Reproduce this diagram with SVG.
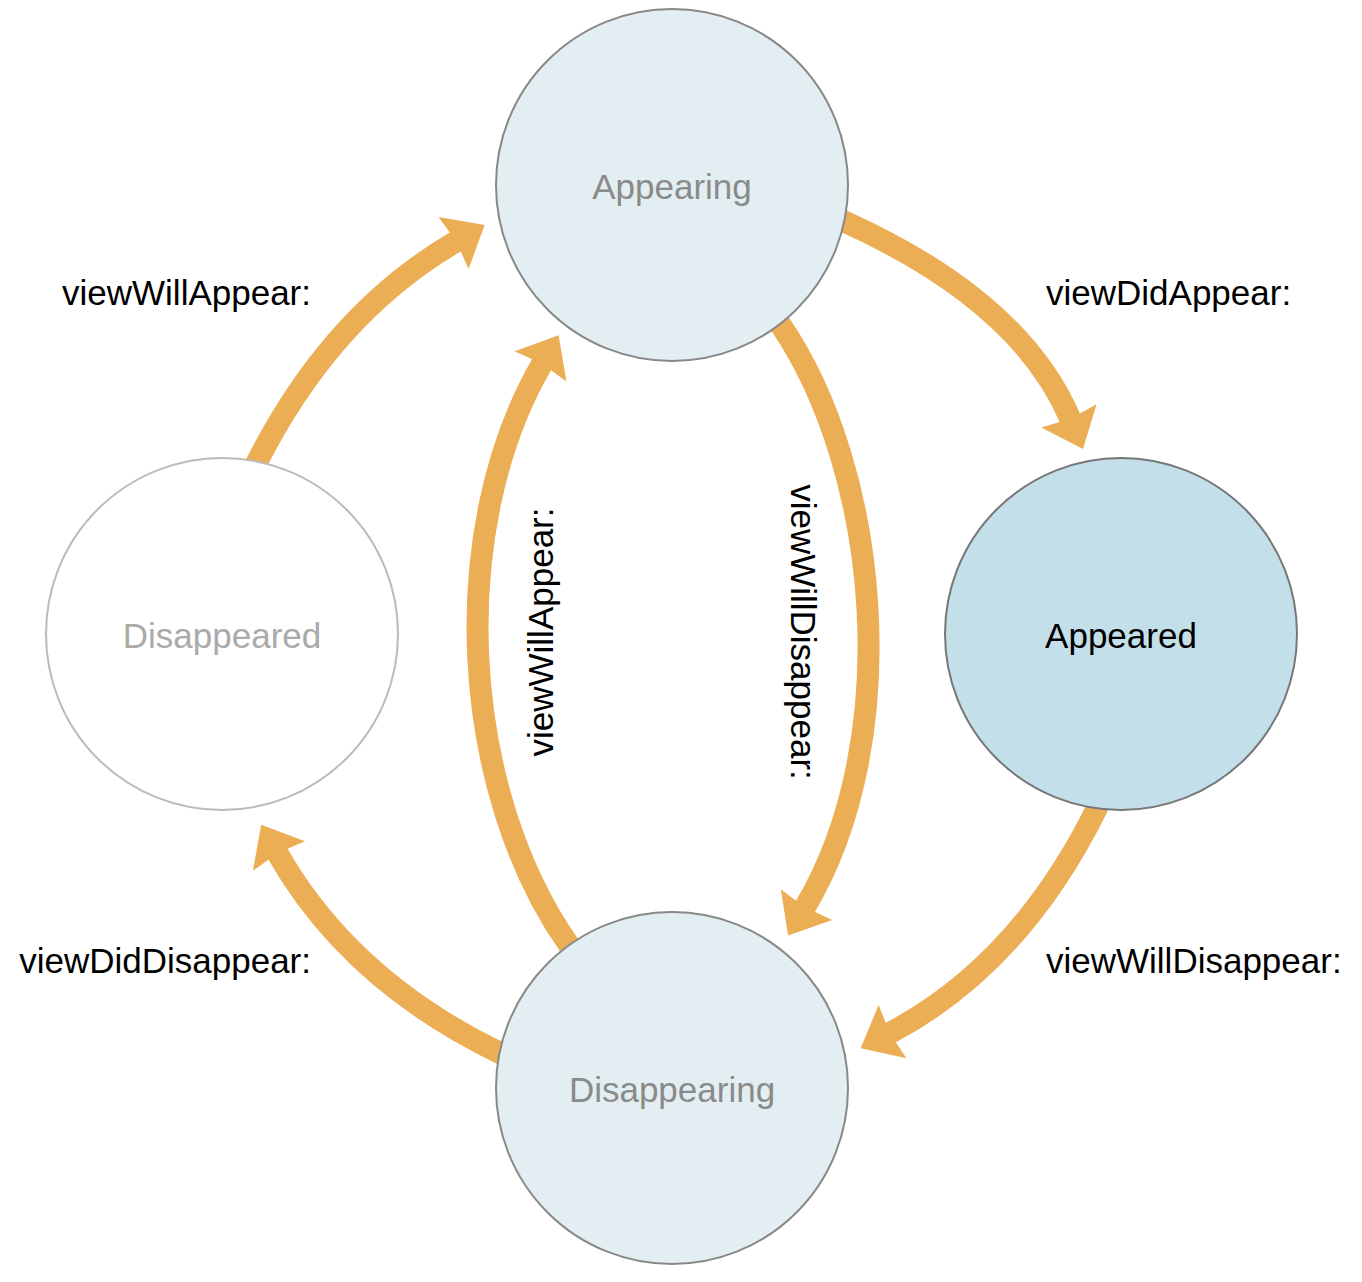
<svg xmlns="http://www.w3.org/2000/svg" width="1362" height="1282" viewBox="0 0 1362 1282">
  <style>
    .flow { fill: none; stroke: #ebae55; stroke-width: 22; marker-end: url(#head); }
    .node { stroke-width: 2; }
    .label { font-family: "Liberation Sans", Arial, Helvetica, sans-serif; font-size: 35px; fill: #000; }
    .title { font-family: "Liberation Sans", Arial, Helvetica, sans-serif; font-size: 35px; text-anchor: middle; }
  </style>
  <defs>
    <!-- arrowhead: base overlaps the path end, tip extends forward -->
    <marker id="head" markerUnits="userSpaceOnUse" orient="auto" refX="0" refY="0" markerWidth="1" markerHeight="1" overflow="visible">
      <path d="M 32 0 L -4 -30 L -2 -11 L -2 11 L -4 30 Z" fill="#ebae55"/>
    </marker>
  </defs>
  <rect width="1362" height="1282" fill="#ffffff"/>

  <!-- transitions -->
  <g id="connectors">
    <path class="flow" d="M 255 466 Q 331 314 457 241"/>
    <path class="flow" d="M 841 220 Q 1020 300 1070.5 419.5"/>
    <path class="flow" d="M 780 324 C 880 470 905 740 804.5 908"/>
    <path class="flow" d="M 569 945 C 460 790 445 530 542.5 363"/>
    <path class="flow" d="M 1098 806 Q 1020 965 889 1033.5"/>
    <path class="flow" d="M 502 1054 Q 350 981 277 852.5"/>
  </g>

  <g id="labels">
    <text class="label" x="311" y="305" text-anchor="end">viewWillAppear:</text>
    <text class="label" x="1046" y="305">viewDidAppear:</text>
    <text class="label" x="311" y="973" text-anchor="end">viewDidDisappear:</text>
    <text class="label" x="1046" y="973">viewWillDisappear:</text>
    <text class="label" text-anchor="middle" transform="translate(553 632) rotate(-90)">viewWillAppear:</text>
    <text class="label" text-anchor="middle" transform="translate(791 632) rotate(90)">viewWillDisappear:</text>
  </g>

  <!-- states -->
  <g id="appearing">
    <circle class="node" cx="672" cy="185" r="176" fill="#e2eef1" stroke="#888888"/>
    <text class="title" x="672" y="199" fill="#8a8a8a">Appearing</text>
  </g>
  <g id="appeared">
    <circle class="node" cx="1121" cy="634" r="176" fill="#c3dfea" stroke="#777777"/>
    <text class="title" x="1121" y="648" fill="#000000">Appeared</text>
  </g>
  <g id="disappeared">
    <circle class="node" cx="222" cy="634" r="176" fill="#ffffff" stroke="#bbbbbb"/>
    <text class="title" x="222" y="648" fill="#aaaaaa">Disappeared</text>
  </g>
  <g id="disappearing">
    <circle class="node" cx="672" cy="1088" r="176" fill="#e2eef1" stroke="#888888"/>
    <text class="title" x="672" y="1102" fill="#8a8a8a">Disappearing</text>
  </g>
</svg>
